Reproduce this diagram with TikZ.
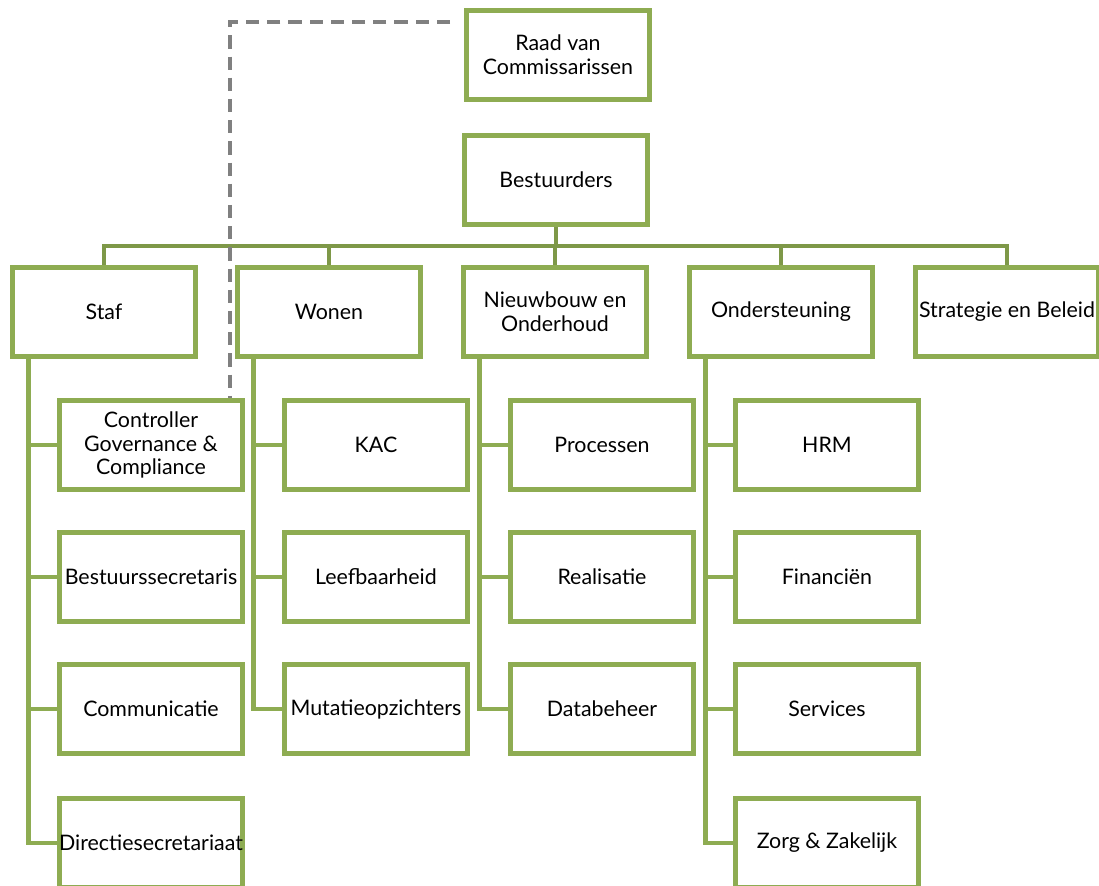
\documentclass[tikz,border=0pt]{standalone}
\usepackage{fontspec}
\setmainfont{Lato}
\definecolor{boxgreen}{RGB}{142,172,82}
\definecolor{busgreen}{RGB}{126,152,72}
\definecolor{dashgray}{RGB}{128,128,128}

\begin{document}
\begin{tikzpicture}[x=0.025cm,y=-0.025cm,
	unit/.style={draw=boxgreen,line width=3.5pt,fill=white,minimum width=4.575cm,minimum height=2.225cm,inner sep=0,align=center,font=\fontsize{15.2}{17}\selectfont},
	bus/.style={draw=busgreen,line width=3.5pt},
	spine/.style={draw=boxgreen,line width=3.5pt},
	advies/.style={draw=dashgray,line width=2.4pt,dash pattern=on 0.33cm off 0.2cm}]
	\useasboundingbox (0,0) rectangle (1099,886);
	\clip (0,0) rectangle (1099,886);
	\node[unit] (raad) at (558,55) {Raad van\\Commissarissen};
	\node[unit] (best) at (556,180) {Bestuurders};
	\node[unit] (staf) at (104,312) {Staf};
	\node[unit] (wonen) at (329,312) {Wonen};
	\node[unit] (nieuw) at (555,312) {Nieuwbouw en\\Onderhoud};
	\node[unit] (onder) at (781,312) {Ondersteuning};
	\node[unit] (strat) at (1007,312) {\makebox[0pt]{Strategie en Beleid}};
	\node[unit] (ctrl) at (151,445) {Controller\\Governance \&\\Compliance};
	\node[unit] (bsec) at (151,577) {\makebox[0pt]{Bestuurssecretaris}};
	\node[unit] (comm) at (151,709) {Communicatie};
	\node[unit] (dir) at (151,843) {\makebox[0pt]{Directiesecretariaat}};
	\node[unit] (kac) at (376,445) {KAC};
	\node[unit] (leef) at (376,577) {Leefbaarheid};
	\node[unit] (mut) at (376,709) {\makebox[0pt]{Mutatieopzichters}};
	\node[unit] (proc) at (602,445) {Processen};
	\node[unit] (real) at (602,577) {Realisatie};
	\node[unit] (data) at (602,709) {Databeheer};
	\node[unit] (hrm) at (827,445) {HRM};
	\node[unit] (fin) at (827,577) {Financiën};
	\node[unit] (serv) at (827,709) {Services};
	\node[unit] (zorg) at (827,843) {Zorg \& Zakelijk};
	\coordinate (bus) at (556,246);
	\draw[bus] (best.south) -- (bus);
	\foreach \u in {staf,wonen,nieuw,onder,strat}
		\draw[bus] (bus) -| (\u.north);
	\foreach \k in {ctrl,bsec,comm,dir}
		\draw[spine] (staf.south west) ++(18.5,0) |- (\k.west);
	\foreach \k in {kac,leef,mut}
		\draw[spine] (wonen.south west) ++(18.5,0) |- (\k.west);
	\foreach \k in {proc,real,data}
		\draw[spine] (nieuw.south west) ++(18.5,0) |- (\k.west);
	\foreach \k in {hrm,fin,serv,zorg}
		\draw[spine] (onder.south west) ++(18.5,0) |- (\k.west);
	\draw[advies] ([shift={(-0.35cm,-0.35cm)}]raad.north west) -| ([xshift=1.975cm]ctrl.north);
\end{tikzpicture}
\end{document}
